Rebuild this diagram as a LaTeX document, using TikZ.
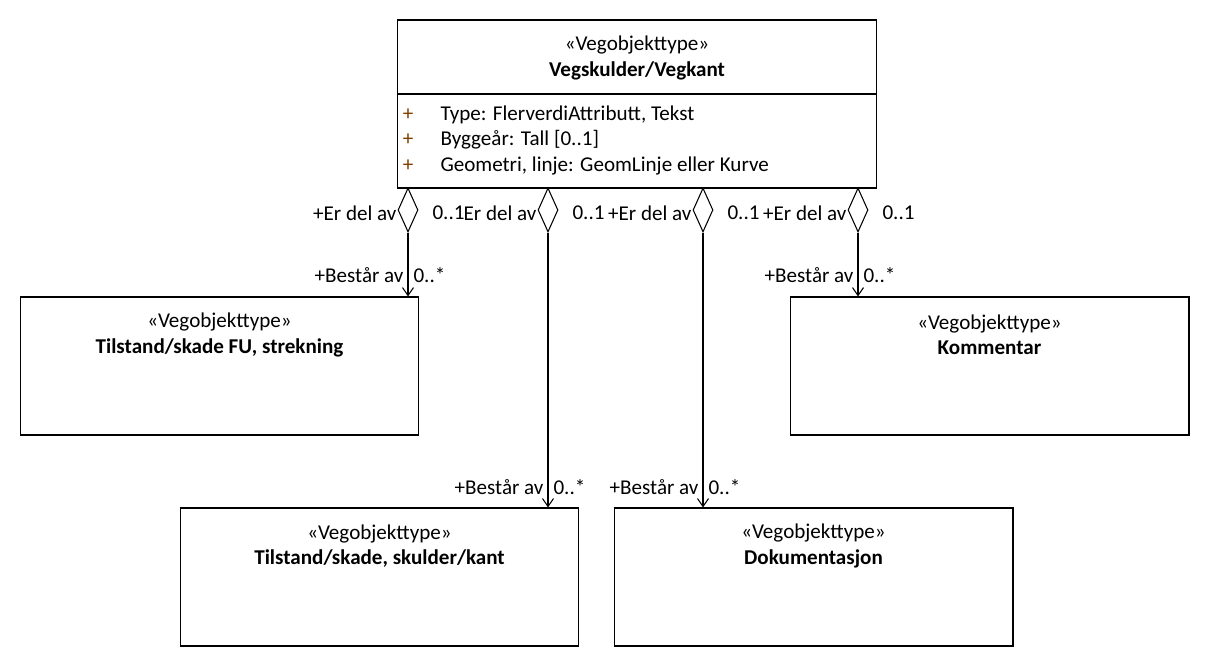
\documentclass[tikz,border=0pt]{standalone}
\usepackage{fontspec}
\setmainfont{Carlito}
\usepackage{tikz}
\usetikzlibrary{shapes.geometric,arrows.meta}
\definecolor{plussbrun}{RGB}{128,64,0}

\begin{document}
\begin{tikzpicture}[x=0.02cm,y=-0.02cm,line width=0.6pt,
	every node/.style={font=\fontsize{12}{14.5}\selectfont},
	klasse/.style={draw, rectangle, inner sep=0pt, minimum width=7.98cm, minimum height=2.76cm},
	tittel/.style={align=center, inner sep=0pt},
	rombe/.style={draw, diamond, inner sep=0pt, minimum width=0.4cm, minimum height=0.88cm, fill=white},
	pil/.style={-{Straight Barb[length=1.6mm,width=2.2mm]}},
	rolle/.style={anchor=east, inner sep=0pt},
	mult/.style={anchor=west, inner sep=0pt}]
	\useasboundingbox (0,0) rectangle (1210,668);
	% hovedklassen
	\node[klasse, minimum width=9.6cm, minimum height=3.36cm] (vk) at (637,104) {};
	\draw (vk.west |- 0,94) -- (vk.east |- 0,94);
	\node[tittel] (vkt) at (637,58) {«Vegobjekttype»\\\textbf{Vegskulder/Vegkant}};
	\node[text=plussbrun] (p1) at (408,115) {+};
	\node[text=plussbrun] (p2) at (408,140) {+};
	\node[text=plussbrun] (p3) at (408,166) {+};
	\node[anchor=west, inner sep=0pt] (a1) at (440,115) {Type: FlerverdiAttributt, Tekst};
	\node[anchor=west, inner sep=0pt] (a2) at (440,140) {Byggeår: Tall [0..1]};
	\node[anchor=west, inner sep=0pt] (a3) at (440,166) {Geometri, linje: GeomLinje eller Kurve};
	% delklassene
	\node[klasse] (tfu) at (219.5,366) {};
	\node[tittel] at (219.5,335) {«Vegobjekttype»\\\textbf{Tilstand/skade FU, strekning}};
	\node[klasse] (kom) at (989.5,366) {};
	\node[tittel] at (989.5,335) {«Vegobjekttype»\\\textbf{Kommentar}};
	\node[klasse] (tsk) at (379.5,577) {};
	\node[tittel] at (379.5,546) {«Vegobjekttype»\\\textbf{Tilstand/skade, skulder/kant}};
	\node[klasse] (dok) at (813.5,577) {};
	\node[tittel] at (813.5,546) {«Vegobjekttype»\\\textbf{Dokumentasjon}};
	% aggregeringer
	\node[rombe] (d1) at (408,210) {};
	\node[rombe] (d2) at (548,210) {};
	\node[rombe] (d3) at (703,210) {};
	\node[rombe] (d4) at (858,210) {};
	\foreach \d/\b in {d1/tfu, d2/tsk, d3/dok, d4/kom} {\draw[pil] (\d.south) -- (\d.south |- \b.north);}
	\node[rolle] (r1) at (397,213) {+Er del av};
	\node[rolle] (r2) at (537,213) {Er del av};
	\node[rolle] (r3) at (692,213) {+Er del av};
	\node[rolle] (r4) at (847,213) {+Er del av};
	\foreach \n/\x in {m1/432, m2/572, m3/727, m4/882} {\node[mult] (\n) at (\x,213) {0..1};}
	\node[rolle] (b1) at (404,275) {+Består av};
	\node[mult] (n1) at (413,275) {0..*};
	\node[rolle] (b2) at (544,487) {+Består av};
	\node[mult] (n2) at (553,487) {0..*};
	\node[rolle] (b3) at (699,487) {+Består av};
	\node[mult] (n3) at (708,487) {0..*};
	\node[rolle] (b4) at (854,275) {+Består av};
	\node[mult] (n4) at (863,275) {0..*};
\end{tikzpicture}
\end{document}
